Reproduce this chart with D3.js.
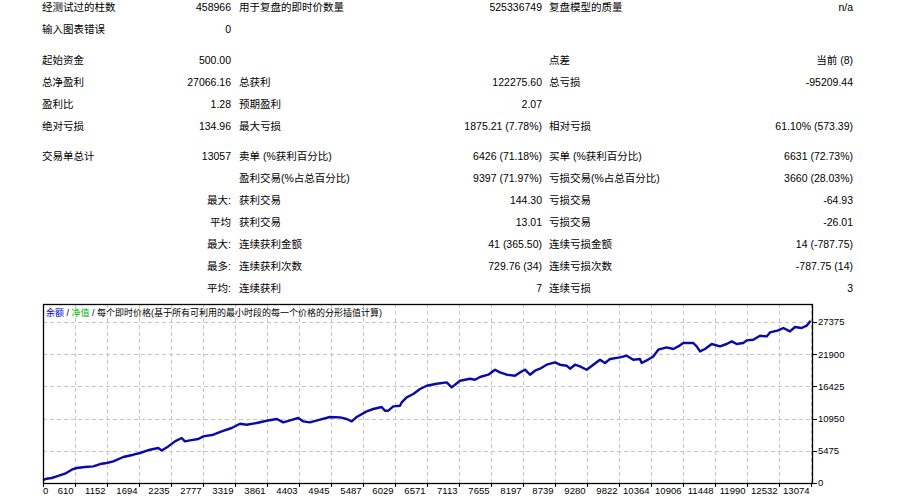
<!DOCTYPE html>
<html>
<head>
<meta charset="utf-8">
<script src="https://cdn.jsdelivr.net/npm/d3@7"></script>
<style>
body { margin: 0; background: #fff; }
svg text { font-family: "Liberation Sans", "Noto Sans CJK SC", sans-serif; fill: #000; }
</style>
</head>
<body>
<svg id="chart" width="907" height="504"></svg>
<script>

// report table, one row per line: label, value, label, value, label, value
var statRows = [
  ["经测试过的柱数", "458966", "用于复盘的即时价数量", "525336749", "复盘模型的质量", "n/a"],
  ["输入图表错误", "0", "", "", "", ""],
  ["起始资金", "500.00", "", "", "点差", "当前 (8)"],
  ["总净盈利", "27066.16", "总获利", "122275.60", "总亏损", "-95209.44"],
  ["盈利比", "1.28", "预期盈利", "2.07", "", ""],
  ["绝对亏损", "134.96", "最大亏损", "1875.21 (7.78%)", "相对亏损", "61.10% (573.39)"],
  ["交易单总计", "13057", "卖单 (%获利百分比)", "6426 (71.18%)", "买单 (%获利百分比)", "6631 (72.73%)"],
  ["", "", "盈利交易(%占总百分比)", "9397 (71.97%)", "亏损交易(%占总百分比)", "3660 (28.03%)"],
  ["", "最大:", "获利交易", "144.30", "亏损交易", "-64.93"],
  ["", "平均", "获利交易", "13.01", "亏损交易", "-26.01"],
  ["", "最大:", "连续获利金额", "41 (365.50)", "连续亏损金额", "14 (-787.75)"],
  ["", "最多:", "连续获利次数", "729.76 (34)", "连续亏损次数", "-787.75 (14)"],
  ["", "平均:", "连续获利", "7", "连续亏损", "3"]
];
var rowGroups = [0, 0, 1, 1, 1, 1, 2, 2, 2, 2, 2, 2, 2];

// balance curve (trade number, balance)
var tradeNo = [0, 63, 148, 233, 374, 488, 573, 714, 856, 998, 1084, 1196, 1366, 1537, 1650, 1820,
  1961, 2019, 2131, 2245, 2359, 2415, 2500, 2642, 2727, 2897, 3040, 3210, 3351, 3465, 3635, 3805,
  3976, 4088, 4201, 4343, 4428, 4542, 4712, 4882, 5052, 5166, 5251, 5336, 5506, 5618, 5761, 5817,
  5874, 5959, 6073, 6101, 6186, 6299, 6413, 6527, 6697, 6867, 6952, 7093, 7263, 7348, 7433, 7575,
  7689, 7774, 7888, 8029, 8114, 8199, 8284, 8369, 8454, 8568, 8709, 8794, 8908, 8964, 9049, 9134,
  9248, 9361, 9475, 9560, 9645, 9815, 9929, 10041, 10155, 10184, 10269, 10381, 10466, 10609, 10721,
  10806, 10892, 11062, 11119, 11176, 11261, 11375, 11516, 11630, 11715, 11800, 11912, 11970, 12082,
  12196, 12310, 12366, 12508, 12593, 12707, 12792, 12906, 12990, 13057];
var balance = [500, 730, 850, 1120, 1580, 2260, 2550, 2720, 2820, 3280, 3400, 3670, 4420, 4810, 5100, 5660,
  5950, 5540, 6220, 7070, 7650, 7070, 7240, 7480, 7920, 8210, 8770, 9350, 10080, 9910, 10200, 10590,
  10880, 10300, 10640, 11050, 10470, 10300, 10760, 11220, 11150, 10880, 10470, 11220, 12170, 12580, 12920, 12290,
  12290, 13020, 13140, 13700, 14550, 15130, 15980, 16540, 16880, 17100, 16250, 17390, 17730, 17560, 18020, 18410,
  19260, 18800, 18410, 18240, 18800, 19260, 18410, 19090, 19430, 20110, 20500, 20110, 19940, 19430, 20110, 19820,
  19260, 20110, 20960, 20400, 21080, 21350, 21640, 20960, 21080, 20400, 20840, 21520, 22660, 23050, 22780,
  23220, 23800, 23800, 23220, 22370, 22780, 23630, 23220, 23630, 24070, 23630, 23800, 24240, 24360,
  25040, 24920, 25600, 25940, 26350, 25770, 26520, 26350, 26740, 27566];

var xTickLabels = ["0", "610", "1152", "1694", "2235", "2777", "3319", "3861", "4403", "4945", "5487", "6029",
  "6571", "7113", "7655", "8197", "8739", "9280", "9822", "10364", "10906", "11448", "11990", "12532", "13074"];
var yTickValues = [0, 5475, 10950, 16425, 21900, 27375];

var svg = d3.select("#chart");

// ---- statistics table ----
var colX = [42, 231, 239, 542, 549, 853];
var colAnchor = ["start", "end", "start", "end", "start", "end"];

var rows = svg.append("g").attr("class", "stats")
  .selectAll("g")
  .data(statRows)
  .enter()
  .append("g")
  .attr("transform", function (d, i) {
    return "translate(0," + (7.5 + i * 22 + rowGroups[i] * 8.5) + ")";
  });

rows.selectAll("text")
  .data(function (d) { return d; })
  .enter()
  .append("text")
  .attr("x", function (d, j) { return colX[j]; })
  .attr("dy", "0.36em")
  .attr("text-anchor", function (d, j) { return colAnchor[j]; })
  .style("font-size", "10.5px")
  .text(function (d) { return d; });

// ---- balance chart ----
var plotL = 43, plotT = 304, plotR = 813, plotB = 483;

var x = d3.scaleLinear().domain([0, 13098]).range([plotL, plotR]);
var xTick = d3.scaleLinear().domain([0, 24]).range([plotL, 811]);
var y = d3.scaleLinear().domain([0, 30430]).range([plotB, plotT]);

var plot = svg.append("g");

plot.append("rect")
  .attr("x", plotL).attr("y", plotT)
  .attr("width", plotR - plotL).attr("height", plotB - plotT)
  .attr("fill", "#fff");

// grid
plot.append("g").selectAll("line")
  .data(d3.range(1, xTickLabels.length))
  .enter().append("line")
  .attr("x1", function (i) { return Math.round(xTick(i)) + 0.5; })
  .attr("x2", function (i) { return Math.round(xTick(i)) + 0.5; })
  .attr("y1", plotT).attr("y2", plotB)
  .attr("stroke", "#c6c6c6")
  .attr("stroke-dasharray", "4,3");

plot.append("g").selectAll("line")
  .data(yTickValues.slice(1))
  .enter().append("line")
  .attr("x1", plotL).attr("x2", plotR)
  .attr("y1", function (d) { return Math.round(y(d)) + 0.5; })
  .attr("y2", function (d) { return Math.round(y(d)) + 0.5; })
  .attr("stroke", "#c6c6c6")
  .attr("stroke-dasharray", "4,3");

// legend line of the chart
var legend = plot.append("text")
  .attr("x", plotL + 3).attr("y", plotT + 9)
  .attr("dy", "0.35em")
  .style("font-size", "9px");
legend.append("tspan").style("fill", "#0000c8").text("余额");
legend.append("tspan").text(" / ");
legend.append("tspan").style("fill", "#00b400").text("净值");
legend.append("tspan").text(" / 每个即时价格(基于所有可利用的最小时段的每一个价格的分形插值计算)");

// curve
var pts = tradeNo.map(function (t, i) { return [t, balance[i]]; });
var line = d3.line()
  .x(function (d) { return x(d[0]); })
  .y(function (d) { return y(d[1]); });

plot.append("path")
  .datum(pts)
  .attr("d", line)
  .attr("fill", "none")
  .attr("stroke", "#0a0aa8")
  .attr("stroke-width", 2.4)
  .attr("stroke-linejoin", "round");

// frame
plot.append("rect")
  .attr("x", plotL + 0.5).attr("y", plotT + 0.5)
  .attr("width", plotR - plotL - 1).attr("height", plotB - plotT)
  .attr("fill", "none")
  .attr("stroke", "#000")
  .attr("stroke-width", 1.3);

// x axis ticks + labels (MT4 puts each label just left of its tick)
var xAx = plot.append("g");
xAx.selectAll("line")
  .data(xTickLabels)
  .enter().append("line")
  .attr("x1", function (d, i) { return Math.round(xTick(i)) + 0.5; })
  .attr("x2", function (d, i) { return Math.round(xTick(i)) + 0.5; })
  .attr("y1", plotB).attr("y2", plotB + 4)
  .attr("stroke", "#000");
xAx.selectAll("text")
  .data(xTickLabels)
  .enter().append("text")
  .attr("x", function (d, i) { return i === 0 ? xTick(i) : xTick(i) - 1.5; })
  .attr("y", 491)
  .attr("dy", "0.35em")
  .attr("text-anchor", function (d, i) { return i === 0 ? "start" : "end"; })
  .style("font-size", "9.5px")
  .text(function (d) { return d; });

// y axis ticks + labels on the right
var yAx = plot.append("g");
yAx.selectAll("line")
  .data(yTickValues)
  .enter().append("line")
  .attr("x1", plotR).attr("x2", plotR + 4)
  .attr("y1", function (d) { return Math.round(y(d)) + 0.5; })
  .attr("y2", function (d) { return Math.round(y(d)) + 0.5; })
  .attr("stroke", "#000");
yAx.selectAll("text")
  .data(yTickValues)
  .enter().append("text")
  .attr("x", plotR + 5)
  .attr("y", function (d) { return y(d); })
  .attr("dy", "0.35em")
  .style("font-size", "9.5px")
  .text(function (d) { return d; });

</script>
</body>
</html>
